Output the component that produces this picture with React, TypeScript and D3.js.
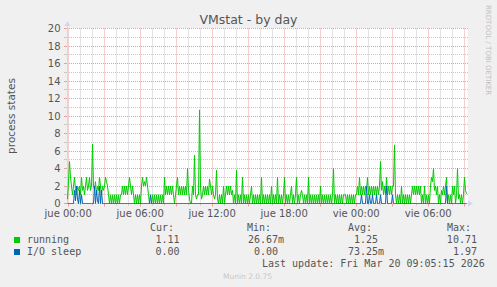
import React from "react";
import * as d3 from "d3";

const W = 497;
const H = 287;

// 5-minute samples (400 points, one per pixel)
const running = [
  // x 67-108
  0.5, 2.5, 4.8, 3.0, 2.0, 1.0, 2.0, 3.0, 1.5, 1.0,
  2.0, 1.5, 2.0, 1.0, 3.0, 1.5, 2.0, 1.0, 2.0, 3.0,
  1.5, 2.0, 3.0, 1.5, 2.0, 6.8, 2.0, 1.5, 2.5, 1.0,
  2.0, 1.5, 3.0, 2.0, 1.0, 2.0, 1.5, 2.0, 3.0, 2.5,
  2.0, 1.0,
  // x 109-120
  0, 1, 0, 1, 0, 1, 0, 1, 0, 1, 0, 1,
  // x 121-128
  1, 2, 1, 2, 1, 2, 1, 2,
  // x 129
  3.0,
  // x 130-133
  2, 1, 2, 1,
  // x 134-140
  0, 1, 0, 1, 0, 1, 0,
  // x 141-147
  2, 3, 2, 2.5, 2, 3, 2,
  // x 148-151
  1, 0, 0, 0,
  // x 152-163
  1, 0, 1, 0, 1, 0, 1, 0, 1, 0, 1, 0,
  // x 164
  3.0,
  // x 165-176
  1, 2, 1, 2, 1, 2, 1, 2, 1, 0, 1, 2,
  // x 177
  3.0,
  // x 178-186
  1, 2, 1, 2, 1, 2, 1, 2, 1,
  // x 187
  4.0,
  // x 188-191
  1.5, 0.5, 0, 0,
  // x 192-201
  2.0, 1.0, 5.5, 1.0, 0.5, 1.0, 1.0, 10.7, 2.0, 0.5,
  // x 202-208
  1, 2, 1, 2, 1, 2, 1,
  // x 209
  2.8,
  // x 210-214
  2, 1, 2, 1, 0.5,
  // x 215-216
  1.0, 3.8,
  // x 217-224
  0.5, 0, 1, 0, 1, 0, 2, 0,
  // x 225-232
  1, 2, 1, 2, 1, 2, 1, 1.5,
  // x 233-235
  0, 1, 0,
  // x 236
  3.8,
  // x 237-241
  0, 1, 0, 1, 0,
  // x 242
  3.0,
  // x 243-250
  0, 1, 0, 1, 0, 1, 0, 1,
  // x 251
  2.0,
  // x 252-260
  0, 1, 0, 1, 0, 1, 0, 1, 0,
  // x 261
  3.0,
  // x 262-270
  0, 1, 0, 1, 0, 1, 0, 1, 0,
  // x 271
  2.0,
  // x 272-276
  0, 1, 0, 1, 0,
  // x 277
  3.0,
  // x 278-283
  0, 1, 0, 1, 0, 1,
  // x 284
  3.0,
  // x 285-290
  0, 1, 0, 1, 0, 1,
  // x 291
  2.0,
  // x 292-295
  0, 1, 0, 1,
  // x 296
  3.0,
  // x 297-307
  0, 1, 0, 1, 1.5, 1, 0, 1, 0, 1, 0,
  // x 308
  3.0,
  // x 309-319
  0, 1, 0, 1, 0, 1, 0, 1, 0, 1, 0,
  // x 320
  2.0,
  // x 321-332
  0, 1, 0, 1, 0, 1, 0, 1, 0, 1, 0, 1,
  // x 333
  4.0,
  // x 334-355
  0, 1, 0, 1, 0, 1, 0, 1, 0, 1, 1, 1, 0, 1, 0, 1, 0, 1, 0, 1, 0, 1,
  // x 356-359
  1, 2, 1, 3,
  // x 360-366
  1, 2, 1, 2, 1, 2, 1.5,
  // x 367
  3.0,
  // x 368-379
  1, 2, 1, 2, 1, 2, 1, 2, 1, 2, 1, 2,
  // x 380
  4.8,
  // x 381-385
  1.5, 2.5, 1, 2, 1,
  // x 386
  3.0,
  // x 387-392
  1, 2, 1, 2, 1, 2,
  // x 393-394
  2.0, 6.7,
  // x 395-399
  1, 0, 1, 0, 1,
  // x 400-401
  0, 2.0,
  // x 402-411
  0, 1, 0, 1, 0, 1, 0, 1, 0, 1,
  // x 412-420
  2, 1, 2, 1, 2, 1, 2, 1, 2,
  // x 421-429
  0, 1, 0, 2, 0, 1, 0, 1, 0,
  // x 430-433
  2, 3, 2.5, 4.0,
  // x 434-441
  1.5, 2, 1, 2, 0, 1, 0, 1.5,
  // x 442-445
  1, 2, 1, 2,
  // x 446
  3.0,
  // x 447-456
  0, 1, 0, 1, 0, 2, 1, 2, 0, 1,
  // x 457
  4.0,
  // x 458-463
  0.5, 1, 0, 1, 0, 1,
  // x 464
  3.0,
  // x 465-466
  1.5, 1.11,
];

const ioSleep = [
  0, 0, 0, 0, 0, 0, 0, 1.5, 0.3, 2.0, 0.5, 0, 1.5, 0, 1.0, 0, 0, 0, 0, 0,
  0, 0, 0, 0, 0, 0, 0, 2.0, 0, 1.5, 0.3, 0, 2.0, 0, 1.5, 0, 0, 0, 0, 0,
  0, 0, 0, 0, 0, 0, 0, 0, 0, 0, 0, 0, 0, 0, 0, 0, 0, 0, 0, 0,
  0, 0, 0, 0, 0, 0, 0, 0, 0, 0, 0, 0, 0, 0, 0, 0, 0, 0, 0, 0,
  0, 0, 0, 1.0, 0, 0, 0, 0, 0, 0, 0, 0, 0, 0, 0, 0, 0, 0, 0, 0,
  0, 0, 0, 0, 0, 0, 0, 0, 0, 0, 0, 0, 0, 0, 0, 0, 0, 0, 0, 0,
  0, 0, 0, 0, 0, 0, 0, 0, 0, 0, 0, 0, 0, 0, 0, 0, 0, 0, 0, 0,
  0, 0, 0, 0, 0, 0, 0, 0, 0, 0, 0, 0, 0, 0, 0, 0, 0, 0, 0, 0,
  0, 0, 0, 0, 0, 0, 0, 0, 0, 0, 0, 0, 0, 0, 0, 0, 0, 0, 0, 0,
  0, 0, 0, 0, 0, 0, 0, 0, 0, 0, 0, 0, 0, 0, 0, 0, 0, 0, 0, 0,
  0, 0, 0, 0, 0, 0, 0, 0, 0, 0, 0, 0, 0, 0, 0, 0, 0, 0, 0, 0,
  0, 0, 0, 0, 0, 0, 0, 0, 0, 0, 0, 0, 0, 0, 0, 0, 0, 0, 0, 0,
  0, 0, 0, 0, 0, 0, 0, 0, 0, 0, 0, 0, 0, 0, 0, 0, 0, 0, 0, 0,
  0, 0, 0, 0, 0, 0, 0, 0, 0, 0, 0, 0, 0, 0, 0, 0, 0, 0, 0, 0,
  0, 0, 0, 0, 0, 0, 0, 0, 0, 0, 0, 0, 0, 0, 1.0, 0, 0, 0, 0, 2.0,
  0, 0, 1.0, 0, 0, 1.0, 0, 0, 0, 1.0, 0, 0, 0, 1.0, 0, 0, 0, 0, 0, 2.0,
  0, 0, 0, 0, 0, 1.0, 0, 0, 0, 0, 0, 0, 0, 0, 0, 0, 0, 0, 0, 0,
  0, 0, 0, 0, 0, 0, 0, 0, 0, 0, 0, 0, 0, 0, 0, 0, 0, 0, 0, 0,
  0, 0, 0, 0, 0, 0, 0, 0, 0, 0, 0, 0, 0, 0, 0, 0, 0, 0, 0, 1.97,
  0, 0, 0, 0, 0, 0, 0, 0, 0, 0, 0, 0, 0, 0, 0, 0, 0, 0, 0, 0,
];

const seriesNames = ["running", "I/O sleep"];
const seriesColors = ["#00CC00", "#0066B3"];
const curVals = ["1.11", "0.00"];
const minVals = ["26.67m", "0.00"];
const avgVals = ["1.25", "73.25m"];
const maxVals = ["10.71", "1.97"];
const yTickLabels = [0, 2, 4, 6, 8, 10, 12, 14, 16, 18, 20];
const dayNames = ["dom", "lun", "mar", "mié", "jue", "vie", "sáb"];

const T0 = Date.UTC(2026, 2, 18, 23, 54, 0);
const STEP = 5 * 60 * 1000; // one pixel
const T1 = T0 + 400 * STEP;

const L = 67, R = 467, TOP = 28.5, BOT = 203.5;

export default function App() {
  const x = d3.scaleUtc().domain([new Date(T0), new Date(T1)]).range([L, R]);
  const y = d3.scaleLinear().domain([0, 20]).range([BOT, TOP]);
  const timeAt = (i: number) => new Date(T0 + (i + 0.5) * STEP);
  const line = d3
    .line<number>()
    .x((_, i) => x(timeAt(i)))
    .y((d) => y(d));

  const hours = d3.utcHour.every(1)!.range(new Date(T0), new Date(T1));
  const labelHours = d3.utcHour.every(6)!.range(new Date(T0), new Date(T1));
  const fmt = d3.utcFormat("%H:%M");
  const yMinor = d3.range(0, 21, 1);

  const mono = "'DejaVu Sans Mono', monospace";
  const sans = "'DejaVu Sans', sans-serif";
  const fg = "#555555";
  const cw = 6.02;
  const colEnd = [185.5, 284, 384, 483];
  const valX = (s: string, c: number) => (s.endsWith("m") ? colEnd[c] : colEnd[c] - cw);

  return (
    <svg
      width={W}
      height={H}
      style={{ position: "absolute", left: 0, top: 0, display: "block" }}
    >
      <rect x={0} y={0} width={W} height={H} fill="#F0F0F0" />
      <rect x={L} y={TOP - 0.5} width={R - L + 1} height={BOT - TOP + 0.5} fill="#FFFFFF" />

      {/* horizontal grid */}
      {yMinor.map((v) => {
        const yy = Math.round(y(v) - 0.5) + 0.5;
        const major = v % 2 === 0;
        return (
          <g key={"h" + v}>
            {v > 0 && (
              <line
                x1={L}
                x2={R + 1}
                y1={yy}
                y2={yy}
                stroke={major ? "#E8A0A0" : "#C8C8C8"}
                strokeDasharray="1,1"
                strokeWidth={1}
              />
            )}
            <line x1={L - 3} x2={L} y1={yy} y2={yy} stroke={major ? "#E8A0A0" : "#C8C8C8"} />
          </g>
        );
      })}

      {/* vertical grid */}
      {hours.map((h) => {
        const xx = Math.round(x(h) - 0.5) + 0.5;
        const major = h.getUTCHours() % 3 === 0;
        return (
          <g key={"v" + h.getTime()}>
            <line
              x1={xx}
              x2={xx}
              y1={TOP}
              y2={BOT}
              stroke={major ? "#E8A0A0" : "#C8C8C8"}
              strokeDasharray="1,1"
            />
            <line x1={xx} x2={xx} y1={BOT} y2={BOT + (major ? 3 : 2)} stroke={major ? "#E8A0A0" : "#C8C8C8"} />
          </g>
        );
      })}

      {/* axes */}
      <line x1={L + 0.5} x2={L + 0.5} y1={BOT} y2={23} stroke="#CFD6F8" />
      <polygon points={`${L - 2.5},26 ${L + 3.5},26 ${L + 0.5},21`} fill="#CFD6F8" />
      <line x1={L} x2={R + 2} y1={BOT} y2={BOT} stroke="#CFD6F8" />
      <polygon points={`${R + 1},${BOT - 3} ${R + 1},${BOT + 3} ${R + 6},${BOT}`} fill="#CFD6F8" />

      {/* series */}
      <path d={line(running) || ""} fill="none" stroke={seriesColors[0]} strokeWidth={1} />
      <path d={line(ioSleep) || ""} fill="none" stroke={seriesColors[1]} strokeWidth={1} />

      {/* y tick labels */}
      {yTickLabels.map((v) => (
        <text
          key={"yl" + v}
          x={60.5}
          y={y(v) + 3.6}
          textAnchor="end"
          fontFamily={sans}
          fontSize={10}
          fill={fg}
        >
          {v}
        </text>
      ))}

      {/* x tick labels */}
      {labelHours.map((h) => (
        <text
          key={"xl" + h.getTime()}
          x={x(h)}
          y={216.5}
          textAnchor="middle"
          fontFamily={sans}
          fontSize={10}
          fill={fg}
        >
          {dayNames[h.getUTCDay()] + " " + fmt(h)}
        </text>
      ))}

      {/* title */}
      <text x={248.5} y={24} textAnchor="middle" fontFamily={sans} fontSize={12.5} fill={fg}>
        VMstat - by day
      </text>

      {/* y axis label */}
      <text
        transform={`translate(14.5, ${(TOP + BOT) / 2}) rotate(-90)`}
        textAnchor="middle"
        fontFamily={sans}
        fontSize={10.5}
        fill={fg}
      >
        process states
      </text>

      {/* watermark */}
      <text
        transform="translate(485.5, 5) rotate(90)"
        fontFamily={sans}
        fontSize={7}
        fill="#C0C0C0"
      >
        RRDTOOL / TOBI OETIKER
      </text>

      {/* legend */}
      <g fontFamily={mono} fontSize={10} fill={fg}>
        <text x={150} y={231}>Cur:</text>
        <text x={247} y={231}>Min:</text>
        <text x={348} y={231}>Avg:</text>
        <text x={447} y={231}>Max:</text>
        {seriesNames.map((n, i) => {
          const by = 243 + i * 12;
          return (
            <g key={n}>
              <rect x={14} y={by - 6} width={6} height={6} fill={seriesColors[i]} />
              <text x={27} y={by}>{n}</text>
              <text x={valX(curVals[i], 0)} y={by} textAnchor="end">{curVals[i]}</text>
              <text x={valX(minVals[i], 1)} y={by} textAnchor="end">{minVals[i]}</text>
              <text x={valX(avgVals[i], 2)} y={by} textAnchor="end">{avgVals[i]}</text>
              <text x={valX(maxVals[i], 3)} y={by} textAnchor="end">{maxVals[i]}</text>
            </g>
          );
        })}
        <text x={262} y={267}>Last update: Fri Mar 20 09:05:15 2026</text>
      </g>
      <text x={223} y={279} fontFamily={sans} fontSize={7.5} fill="#C8C8C8">
        Munin 2.0.75
      </text>
    </svg>
  );
}
